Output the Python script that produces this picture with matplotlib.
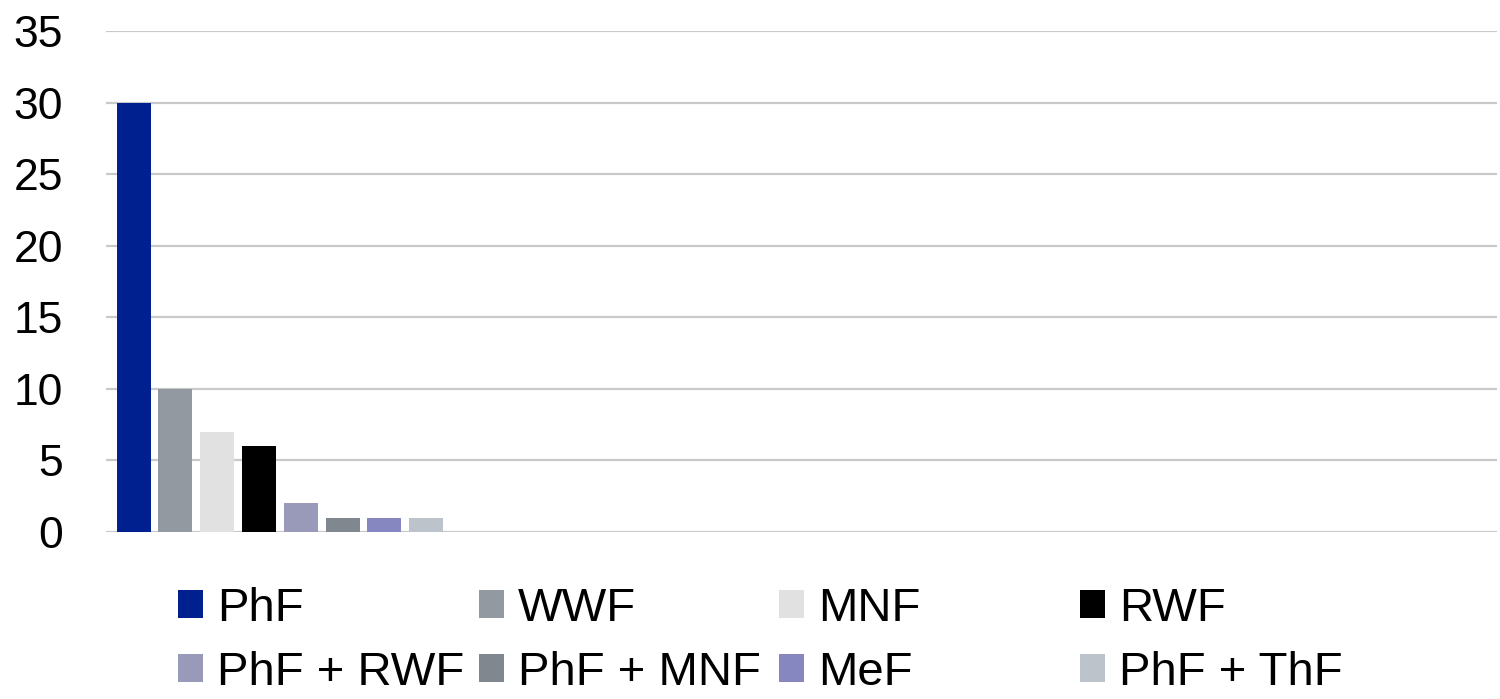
import matplotlib
matplotlib.use("Agg")
import matplotlib.pyplot as plt
import numpy as np

plt.rcParams["font.family"] = ["Liberation Sans", "DejaVu Sans"]

# Counts per fiber type
series = ["PhF", "WWF", "MNF", "RWF", "PhF + RWF", "PhF + MNF", "MeF", "PhF + ThF"]
counts = [30, 10, 7, 6, 2, 1, 1, 1]
colors = ["#002090", "#9299a1", "#e1e1e1", "#000000",
          "#9999b9", "#80878e", "#8686c0", "#bdc3ca"]

y_ticks = [0, 5, 10, 15, 20, 25, 30, 35]

fig = plt.figure(figsize=(15, 6.99), dpi=100)
ax = fig.add_axes([0.0707, 0.2389, 0.9273, 0.7168])

n_slots = 4          # category slots along the x axis (only the first is filled)
step = 0.1202
width = 0.0978
handles = []
for i, (name, val, col) in enumerate(zip(series, counts, colors)):
    off = (i - (len(series) - 1) / 2) * step
    b = ax.bar(0 + off, val, width=width, color=col, label=name, zorder=3)
    handles.append(b)

ax.set_xlim(-0.5, n_slots - 0.5)
ax.set_ylim(0, 35)
ax.set_yticks(y_ticks)
ax.set_xticks([])
for s in ax.spines.values():
    s.set_visible(False)
ax.yaxis.grid(True, color="#c9c9c9", linewidth=1.6, zorder=0)
ax.set_axisbelow(True)
ax.tick_params(axis="y", length=0, pad=31, labelsize=32, labelcolor="#000000")

# Legend laid out as four evenly spaced columns of two entries
col_x = [178, 479, 779, 1080]
for c in range(4):
    hs = [handles[c], handles[c + 4]]
    fig.legend(hs, [series[c], series[c + 4]], loc="center left",
               bbox_to_anchor=(col_x[c] / 1500, 1 - 641 / 699),
               frameon=False, fontsize=34, ncol=1,
               handlelength=0.53, handleheight=0.53, handletextpad=0.3,
               labelspacing=0.42, borderpad=0, borderaxespad=0)

fig.savefig("out.png", dpi=100)
